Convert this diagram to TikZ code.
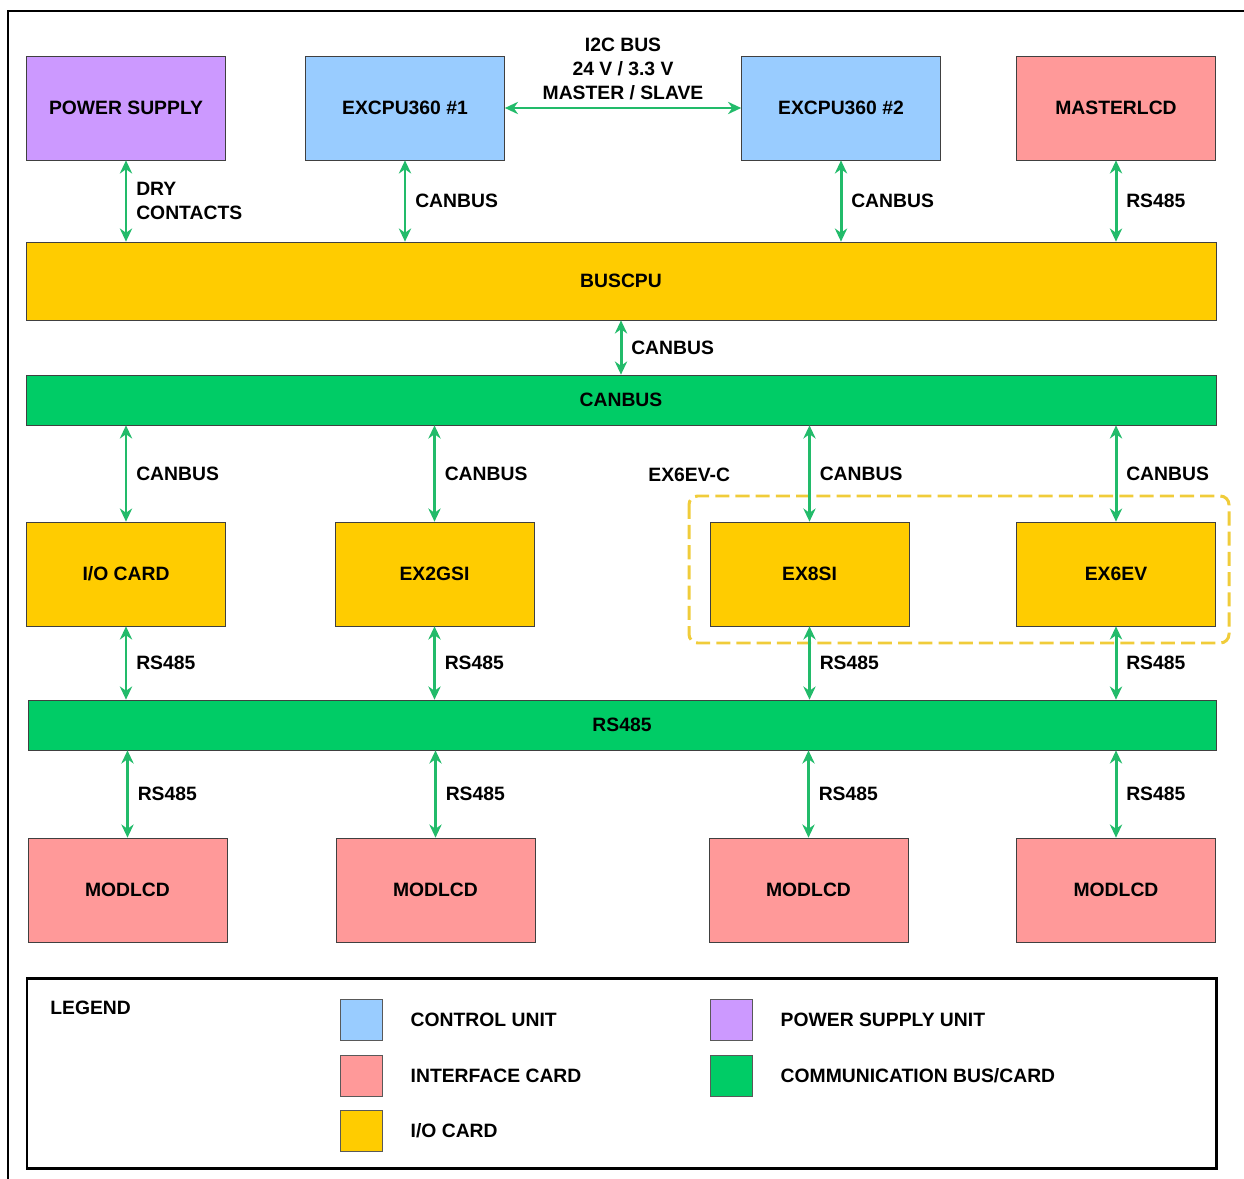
\documentclass[tikz,border=0pt]{standalone}
\usepackage{fontspec}
\setmainfont{Liberation Sans}
\usetikzlibrary{shapes, arrows.meta, calc}

\definecolor{psucol}{HTML}{CC99FF}
\definecolor{ctrlcol}{HTML}{99CCFF}
\definecolor{ifacecol}{HTML}{FF9999}
\definecolor{iocol}{HTML}{FFCC00}
\definecolor{buscol}{HTML}{00CC66}
\definecolor{linkcol}{HTML}{22BB6A}
\definecolor{groupcol}{HTML}{F0CC3A}

\begin{document}
\begin{tikzpicture}[x=0.02cm, y=-0.02cm]
	\fontsize{11}{13.6}\selectfont\bfseries
	\tikzstyle{unit_block} = [draw=black!75, rectangle, minimum width = 3.98cm, minimum height = 2.08cm, align = center];
	\tikzstyle{bus_block} = [draw=black!75, rectangle, minimum width = 23.8cm, minimum height = 1cm, align = center];
	\tikzstyle{key_block} = [draw=black!65, rectangle, minimum width = 0.84cm, minimum height = 0.82cm];
	\tikzstyle{link} = [line width=1.7pt, linkcol, {Stealth[length=7.5pt,width=7pt]}-{Stealth[length=7.5pt,width=7pt]}];
	\tikzstyle{link_label} = [right, inner sep=1pt, xshift=4pt, align=left, text=black];
	\tikzstyle{plain_text} = [right, inner sep=0pt];

	\useasboundingbox (0,0) rectangle (1244,1179);
	\draw[line width=1.6pt] (8,1179) -- (8,11) -- (1244,11);

	% top row
	\node[unit_block, fill=psucol] (psu) at (126,108) {POWER SUPPLY};
	\node[unit_block, fill=ctrlcol] (cpu1) at (405,108) {EXCPU360 \#1};
	\node[unit_block, fill=ctrlcol] (cpu2) at (841,108) {EXCPU360 \#2};
	\node[unit_block, fill=ifacecol] (mlcd) at (1116,108) {MASTERLCD};

	% buses
	\node[bus_block, fill=iocol, minimum height = 1.56cm] (buscpu) at (621,281) {BUSCPU};
	\node[bus_block, fill=buscol] (canbus) at (621,400) {CANBUS};
	\node[bus_block, fill=buscol, minimum width = 23.76cm] (rsbus) at (622,725) {RS485};

	% cards
	\node[unit_block, fill=iocol] (io) at (126,574) {I/O CARD};
	\node[unit_block, fill=iocol] (gsi) at (434.5,574) {EX2GSI};
	\node[unit_block, fill=iocol] (esi) at (809.5,574) {EX8SI};
	\node[unit_block, fill=iocol] (eev) at (1116,574) {EX6EV};

	\draw[line width=1.7pt, groupcol, dash pattern=on 8pt off 3.5pt, rounded corners=5pt] (689,496) rectangle (1229,643);
	\node[plain_text] (group) at (648,475) {EX6EV-C};

	% interface cards
	\foreach \i/\x in {1/127.5, 2/435.5, 3/808.5, 4/1116}{%
		\node[unit_block, fill=ifacecol] (mod\i) at (\x,890) {MODLCD};
		\draw[link] (rsbus.south -| mod\i.north) -- (mod\i.north) node[midway, link_label] {RS485};
	}

	\draw[link] (psu.south) -- (psu.south |- buscpu.north) node[midway, link_label] {DRY\\CONTACTS};
	\foreach \n/\t in {cpu1/CANBUS, cpu2/CANBUS, mlcd/RS485}
		\draw[link] (\n.south) -- (\n.south |- buscpu.north) node[midway, link_label] {\t};
	\draw[link] (cpu1.east) -- (cpu2.west) node[midway, above, inner sep=4pt, align=center, text=black] {I2C BUS\\24 V / 3.3 V\\MASTER / SLAVE};
	\draw[link] (buscpu.south) -- (canbus.north) node[midway, link_label] {CANBUS};

	\foreach \n in {io, gsi, esi, eev}{%
		\draw[link] (canbus.south -| \n.north) -- (\n.north) node[midway, link_label] {CANBUS};
		\draw[link] (\n.south) -- (\n.south |- rsbus.north) node[midway, link_label] {RS485};
	}

	% legend
	\draw[line width=1.7pt] (27,978) rectangle (1216,1168);
	\node[plain_text] (legend) at (50,1008) {LEGEND};
	\foreach \c/\x/\y/\t in {ctrlcol/361/1019.5/{CONTROL UNIT}, ifacecol/361/1075.5/{INTERFACE CARD}, iocol/361/1131/{I/O CARD}, psucol/731/1020/{POWER SUPPLY UNIT}, buscol/731/1075.5/{COMMUNICATION BUS/CARD}}{%
		\node[key_block, fill=\c] (key\c) at (\x,\y) {};
		\node[plain_text] at ($(key\c.east)+(28,0)$) {\t};
	}
\end{tikzpicture}
\end{document}
